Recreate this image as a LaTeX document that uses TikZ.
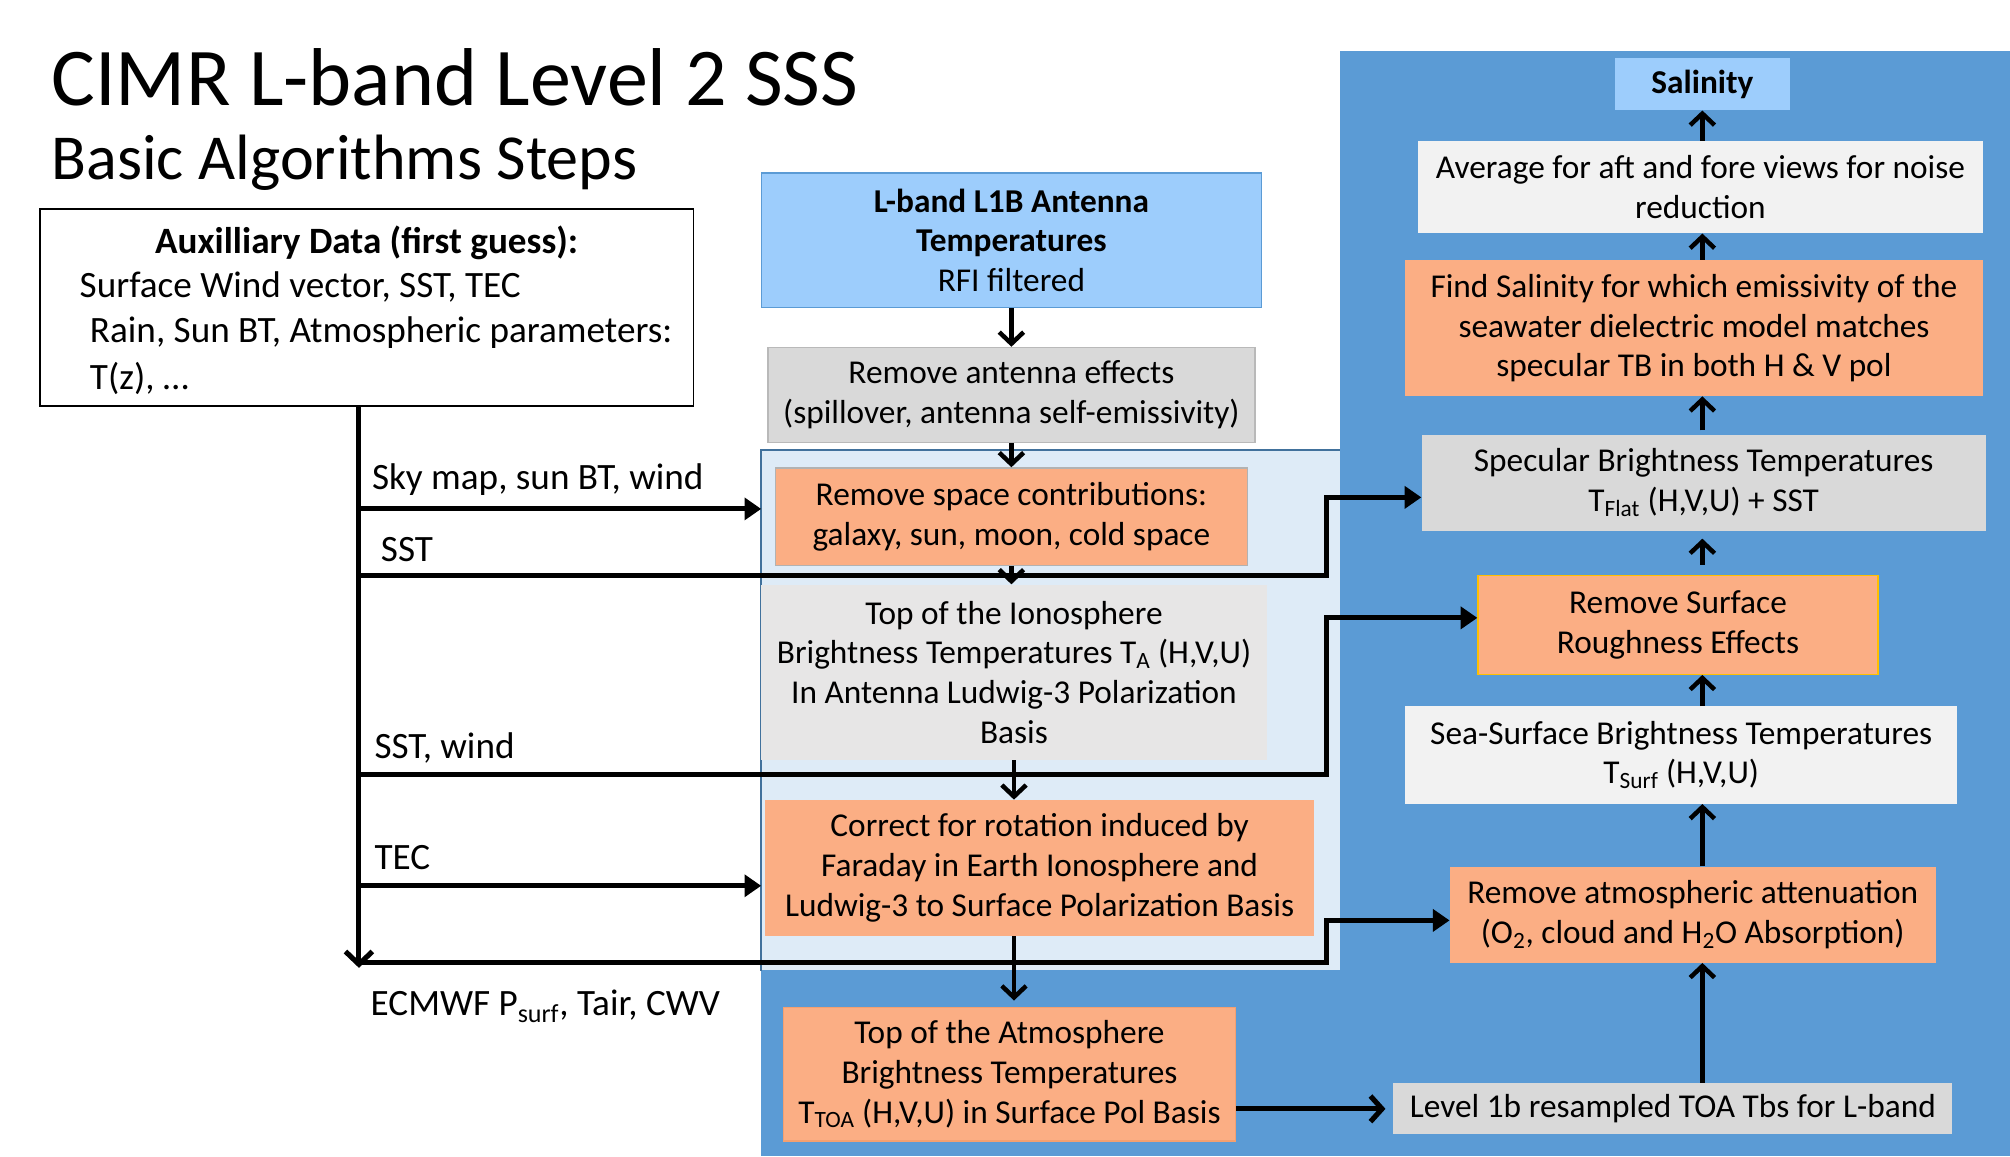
\documentclass[tikz,border=0pt]{standalone}
\usepackage{fontspec}
\setmainfont{Carlito}
\usetikzlibrary{arrows.meta}
\definecolor{bigblue}{HTML}{5B9BD5}
\definecolor{lightreg}{HTML}{DEEBF7}
\definecolor{regborder}{HTML}{41719C}
\definecolor{orangebox}{HTML}{FBAE84}
\definecolor{skyblue}{HTML}{9DCDFC}
\definecolor{grayA}{HTML}{D9D9D9}
\definecolor{grayB}{HTML}{E7E6E6}
\definecolor{grayC}{HTML}{F2F2F2}
\definecolor{goldborder}{HTML}{FFC000}
\definecolor{orangeborder}{HTML}{F4A070}
\begin{document}
\begin{tikzpicture}[x=1pt,y=-1pt,
  box/.style={inner sep=0pt, align=center, font=\fontsize{26}{31}\selectfont},
  lbl/.style={inner sep=0pt, font=\fontsize{29}{35}\selectfont},
  chain/.style={line width=3.5pt, -{Straight Barb[length=9pt,width=19pt]}},
  feed/.style={line width=4pt, -{Triangle[length=13pt,width=17pt]}},
  stemarrow/.style={line width=4pt, -{Straight Barb[length=10pt,width=21pt]}},
]
\useasboundingbox (0,0) rectangle (1568,902);

% backgrounds
\fill[bigblue] (1045,40) rectangle (1568,902);
\fill[bigblue] (594,757) rectangle (1045,902);
\node[fill=lightreg, inner sep=0pt, minimum width=451pt, minimum height=406pt] (region) at (819.5,554) {};
\draw[regborder, line width=1.5pt] (region.south west) -- (region.north west) -- (region.north east);

% titles
\node[anchor=base west, inner sep=0pt, font=\fontsize{64}{70}\selectfont] (title) at (40,82) {CIMR L-band Level 2 SSS};
\node[anchor=base west, inner sep=0pt, font=\fontsize{50}{56}\selectfont] (subtitle) at (40,140) {Basic Algorithms Steps};

% auxiliary box
\node[draw=black, line width=1.5pt, fill=white, inner sep=0pt, minimum width=510pt, minimum height=154pt] (aux) at (286,240) {};
\node[lbl, anchor=base, font=\fontsize{29}{35}\bfseries] (auxh) at (286,198) {Auxilliary Data (first guess):};
\node[lbl, anchor=base west] (aux1) at (62,232) {Surface Wind vector, SST, TEC};
\node[lbl, anchor=base west] (aux2) at (70,267) {Rain, Sun BT, Atmospheric parameters:};
\node[lbl, anchor=base west] (aux3) at (70,304) {T(z), \dots};

% left column
\node[box, fill=skyblue, draw=bigblue, line width=1pt, minimum width=390pt, minimum height=105pt] (l1b) at (789,187.5)
  {\textbf{L-band L1B Antenna}\\\textbf{Temperatures}\\RFI filtered};
\node[box, fill=grayA, draw=gray!55, line width=1pt, minimum width=380pt, minimum height=74pt] (antenna) at (789,308)
  {Remove antenna effects\\(spillover, antenna self-emissivity)};
\node[box, fill=orangebox, draw=gray!60, line width=1pt, minimum width=368pt, minimum height=76pt] (space) at (789,403)
  {Remove space contributions:\\galaxy, sun, moon, cold space};
\node[box, fill=grayB, minimum width=394pt, minimum height=137pt] (iono) at (791,524.5)
  {Top of the Ionosphere\\Brightness Temperatures T\textsubscript{A} (H,V,U)\\In Antenna Ludwig-3 Polarization\\Basis};
\node[box, fill=orangebox, minimum width=428pt, minimum height=106pt] (faraday) at (811,677)
  {Correct for rotation induced by\\Faraday in Earth Ionosphere and\\Ludwig-3 to Surface Polarization Basis};
\node[box, fill=orangebox, draw=orangeborder, line width=1pt, minimum width=353pt, minimum height=104pt] (toa) at (787.5,838)
  {Top of the Atmosphere\\Brightness Temperatures\\T\textsubscript{TOA} (H,V,U) in Surface Pol Basis};

% right column
\node[box, fill=grayA, minimum width=436pt, minimum height=40pt] (lvl1b) at (1305,865)
  {Level 1b resampled TOA Tbs for L-band};
\node[box, fill=orangebox, minimum width=379pt, minimum height=75pt] (atm) at (1320.5,713.5)
  {Remove atmospheric attenuation\\(O\textsubscript{2}, cloud and H\textsubscript{2}O Absorption)};
\node[box, fill=grayC, minimum width=431pt, minimum height=76pt] (sea) at (1311.5,589)
  {Sea-Surface Brightness Temperatures\\T\textsubscript{Surf} (H,V,U)};
\node[box, fill=orangebox, draw=goldborder, line width=1pt, minimum width=312pt, minimum height=77pt] (rough) at (1309,487.5)
  {Remove Surface\\Roughness Effects};
\node[box, fill=grayA, minimum width=440pt, minimum height=75pt] (spec) at (1329,376.5)
  {Specular Brightness Temperatures\\T\textsubscript{Flat} (H,V,U) + SST};
\node[box, fill=orangebox, minimum width=451pt, minimum height=106pt] (find) at (1321.5,256)
  {Find Salinity for which emissivity of the\\seawater dielectric model matches\\specular TB in both H \& V pol};
\node[box, fill=grayC, minimum width=441pt, minimum height=72pt] (avg) at (1326.5,146)
  {Average for aft and fore views for noise\\reduction};
\node[box, fill=skyblue, minimum width=136pt, minimum height=41pt, font=\fontsize{26}{31}\bfseries] (sal) at (1328,65.5)
  {Salinity};

% auxiliary data feeds
\coordinate (stemx) at (280,0);
\coordinate (bendx) at (1035,0);
\coordinate (stemend) at (280,755);
\coordinate (fSky) at (280,397);
\coordinate (fSST) at (280,449);
\coordinate (fWind) at (280,604);
\coordinate (fTEC) at (280,691);
\coordinate (fEC) at (280,751);

\draw[stemarrow] (aux.south -| stemx) -- (stemend);
\draw[feed] (fSky) -- (fSky -| region.west);
\draw[feed] (fSST) -- (fSST -| bendx) |- ([yshift=-11.5pt]spec.west);
\draw[feed] (fWind) -- (fWind -| bendx) |- ([yshift=5.5pt]rough.west);
\draw[feed] (fTEC) -- (fTEC -| region.west);
\draw[feed] (fEC) -- (fEC -| bendx) |- ([yshift=-4.5pt]atm.west);

\node[lbl, anchor=base west] (lSky) at (290,382) {Sky map, sun BT, wind};
\node[lbl, anchor=base west] (lSST) at (297,438) {SST};
\node[lbl, anchor=base west] (lWind) at (292,592) {SST, wind};
\node[lbl, anchor=base west] (lTEC) at (292,678) {TEC};
\node[lbl, anchor=base west] (lEC) at (289,792) {ECMWF P\textsubscript{surf}, Tair, CWV};

% processing chain
\draw[chain] (l1b.south) -- (antenna.north);
\draw[chain] (antenna.south) -- (space.north);
\draw[chain] (space.south) -- (space.south |- iono.north);
\draw[chain] (iono.south) -- (iono.south |- faraday.north);
\draw[chain] (iono.south |- faraday.south) -- ([yshift=5pt]iono.south |- toa.north);
\draw[line width=4pt, -{Straight Barb[length=9pt,width=20pt]}] (toa.east |- lvl1b.west) -- ([xshift=-6pt]lvl1b.west);
\draw[chain] (lvl1b.north -| sal) -- (atm.south -| sal);
\draw[chain] (atm.north -| sal) -- (sea.south -| sal);
\draw[chain] (sea.north -| sal) -- (rough.south -| sal);
\draw[chain] ([yshift=8pt]rough.north -| sal) -- ([yshift=-6pt]spec.south -| sal);
\draw[chain] ([yshift=3pt]spec.north -| sal) -- (find.south -| sal);
\draw[chain] (find.north -| sal) -- (avg.south -| sal);
\draw[chain] (avg.north -| sal) -- (sal.south);
\end{tikzpicture}
\end{document}
